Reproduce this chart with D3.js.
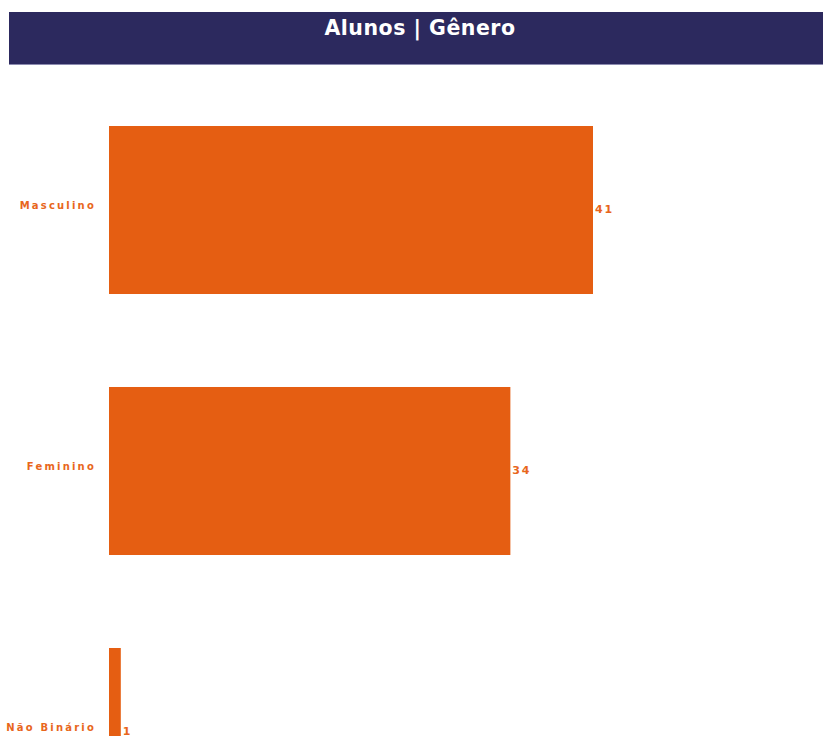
<!DOCTYPE html>
<html>
<head>
<meta charset="utf-8">
<script src="https://cdn.jsdelivr.net/npm/d3@7"></script>
<style>
  html, body { margin: 0; padding: 0; background: #ffffff; overflow: hidden; }
  svg { display: block; }
</style>
</head>
<body>
<svg id="chart" width="823" height="736"></svg>
<script>
// Student count by gender
const categories = ["Masculino", "Feminino", "Não Binário"];
const values = [41, 34, 1];
const title = "Alunos | Gênero";

const W = 823, H = 736;
const barColor = "#E55E12";
const labelColor = "#E8661C";
const headerColor = "#2C295E";

const svg = d3.select("#chart");

// Header band with title
svg.append("rect")
  .attr("x", 9).attr("y", 12)
  .attr("width", W - 9).attr("height", 52)
  .attr("fill", headerColor);
svg.append("line")
  .attr("x1", 9).attr("x2", W).attr("y1", 64.5).attr("y2", 64.5)
  .attr("stroke", "#8c8bb0").attr("stroke-width", 1);
svg.append("text")
  .attr("x", 420).attr("y", 35)
  .attr("text-anchor", "middle")
  .attr("fill", "#ffffff")
  .attr("font-family", "'DejaVu Sans', sans-serif")
  .attr("font-weight", 700)
  .attr("font-size", 20.5)
  .attr("letter-spacing", 0.5)
  .text(title);

// Scales
const x = d3.scaleLinear().domain([0, 41]).range([109, 593]);
const y = d3.scaleBand()
  .domain(categories)
  .range([126, 816])
  .paddingInner(0.3563)
  .paddingOuter(0)
  .align(0);

const data = categories.map((c, i) => ({ cat: c, val: values[i] }));

// Bars
svg.append("g").selectAll("rect")
  .data(data)
  .join("rect")
  .attr("x", x(0))
  .attr("y", d => y(d.cat))
  .attr("width", d => x(d.val) - x(0))
  .attr("height", y.bandwidth())
  .attr("fill", barColor);

// Category labels (left axis, no domain line or ticks)
const yAxis = d3.axisLeft(y).tickSize(0).tickPadding(13);
const gy = svg.append("g")
  .attr("transform", `translate(${x(0)},0)`)
  .call(yAxis);
gy.select(".domain").remove();
gy.selectAll("text")
  .attr("fill", labelColor)
  .attr("font-family", "'DejaVu Sans', sans-serif")
  .attr("font-size", 10)
  .attr("font-weight", 700)
  .attr("letter-spacing", 2.2)
  .attr("dy", "0")
  .attr("dominant-baseline", "middle")
  .attr("transform", "translate(0,-4)");

// Value labels at bar ends
svg.append("g").selectAll("text")
  .data(data)
  .join("text")
  .attr("x", d => x(d.val) + 2)
  .attr("y", d => y(d.cat) + y.bandwidth() / 2)
  .attr("dominant-baseline", "middle")
  .attr("fill", labelColor)
  .attr("font-family", "'DejaVu Sans', sans-serif")
  .attr("font-size", 11)
  .attr("font-weight", 700)
  .attr("letter-spacing", 1.8)
  .text(d => d.val);
</script>
</body>
</html>
